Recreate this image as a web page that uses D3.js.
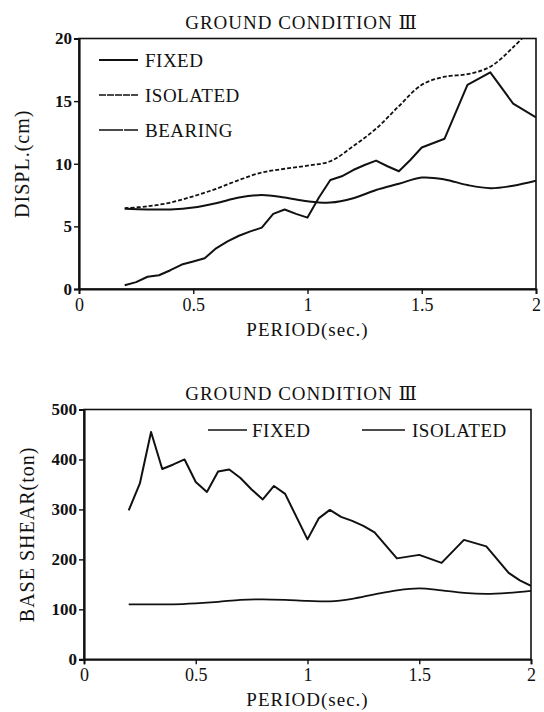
<!DOCTYPE html>
<html>
<head>
<meta charset="utf-8">
<script src="https://cdn.jsdelivr.net/npm/d3@7"></script>
<style>
  html, body { margin: 0; padding: 0; background: #fff; }
  svg { display: block; }
  text { font-family: "Liberation Serif", "DejaVu Serif", serif; fill: #111; }
</style>
</head>
<body>
<svg id="chart" width="544" height="712"></svg>
<script>
// ---------- DATA ----------
// Top chart: displacement (cm)
const topTitle = "GROUND CONDITION \u2162";
const topYLabel = "DISPL.(cm)";
const xLabel = "PERIOD(sec.)";
const xTicks = [0, 0.5, 1, 1.5, 2];
const topYTicks = [0, 5, 10, 15, 20];
const topLegend = ["FIXED", "ISOLATED", "BEARING"];

const fixedDisplPeriod = [0.2,0.25,0.3,0.35,0.4,0.45,0.5,0.55,0.6,0.65,0.7,0.75,0.8,0.85,0.9,0.95,1.0,1.05,1.1,1.15,1.2,1.25,1.3,1.35,1.4,1.45,1.5,1.6,1.7,1.8,1.9,2.0];
const fixedDispl = [0.3,0.55,0.98,1.1,1.5,1.95,2.2,2.45,3.25,3.8,4.25,4.6,4.9,6.0,6.35,6.0,5.7,7.3,8.7,9.0,9.5,9.9,10.25,9.8,9.4,10.3,11.3,12.0,16.3,17.3,14.8,13.7];

const smoothPeriod = [0.2,0.3,0.4,0.5,0.6,0.7,0.8,0.9,1.0,1.1,1.2,1.3,1.4,1.5,1.6,1.7,1.8,1.9,2.0];
const isolatedDispl = [6.45,6.6,6.9,7.4,8.0,8.7,9.3,9.6,9.85,10.2,11.4,12.8,14.6,16.3,16.95,17.15,17.75,19.3,21.2];
const bearingDispl = [6.4,6.35,6.35,6.5,6.85,7.3,7.5,7.3,7.0,6.9,7.25,7.9,8.4,8.9,8.75,8.3,8.05,8.25,8.65];

// Bottom chart: base shear (ton)
const bottomTitle = "GROUND CONDITION \u2162";
const bottomYLabel = "BASE SHEAR(ton)";
const bottomYTicks = [0, 100, 200, 300, 400, 500];
const bottomLegend = ["FIXED", "ISOLATED"];

const fixedShearPeriod = [0.2,0.25,0.3,0.35,0.4,0.45,0.5,0.55,0.6,0.65,0.7,0.75,0.8,0.85,0.9,1.0,1.05,1.1,1.15,1.2,1.25,1.3,1.4,1.5,1.6,1.7,1.8,1.9,1.95,2.0];
const fixedShear = [298,352,455,381,390,400,355,335,376,380,363,340,320,347,331,240,282,299,285,277,267,254,202,209,193,239,226,173,158,147];
const isolatedShear = [110,110,110,112,115,119,120,119,117,116,121,130,138,142,138,133,131,133,137];

// ---------- DRAWING ----------
const svg = d3.select("#chart");
svg.append("rect").attr("width", 544).attr("height", 712).attr("fill", "#fff");

function drawPanel(cfg) {
  const {left, right, top, bottom, yMax, yTicks, title, yLabel, id} = cfg;
  const x = d3.scaleLinear().domain([0, 2]).range([left, right]);
  const y = d3.scaleLinear().domain([0, yMax]).range([bottom, top]);
  const g = svg.append("g");

  g.append("clipPath").attr("id", id).append("rect")
    .attr("x", left).attr("y", top).attr("width", right - left).attr("height", bottom - top);

  // frame
  g.append("rect").attr("x", left).attr("y", top)
    .attr("width", right - left).attr("height", bottom - top)
    .attr("fill", "none").attr("stroke", "#111").attr("stroke-width", 1.6);

  // axes
  const xa = g.append("g").attr("transform", `translate(0,${bottom})`)
    .call(d3.axisBottom(x).tickValues(xTicks).tickSize(5).tickPadding(4).tickFormat(d => String(d)));
  xa.attr("font-family", null).attr("font-size", null);
  xa.select(".domain").attr("stroke", "#111").attr("stroke-width", 1.8);
  xa.selectAll(".tick line").attr("stroke", "#111").attr("stroke-width", 1.4);
  xa.selectAll("text").style("font-size", "18px").attr("fill", "#111");

  const ya = g.append("g").attr("transform", `translate(${left},0)`)
    .call(d3.axisLeft(y).tickValues(yTicks).tickSize(5).tickPadding(2));
  ya.attr("font-family", null).attr("font-size", null);
  ya.select(".domain").attr("stroke", "#111").attr("stroke-width", 2.2);
  ya.selectAll(".tick line").attr("stroke", "#111").attr("stroke-width", 1.4);
  ya.selectAll("text").style("font-size", "17px").style("font-weight", "bold").attr("fill", "#111");

  // titles
  g.append("text").attr("x", (left + right) / 2 - 6).attr("y", top - 10)
    .attr("text-anchor", "middle").style("font-size", "19px").style("letter-spacing", "1px")
    .text(title);
  g.append("text").attr("x", (left + right) / 2).attr("y", bottom + 47)
    .attr("text-anchor", "middle").style("font-size", "19px").style("letter-spacing", "1px")
    .text(xLabel);
  g.append("text")
    .attr("transform", `translate(${left - 50},${(top + bottom) / 2}) rotate(-90)`)
    .attr("text-anchor", "middle").style("font-size", "20px").style("letter-spacing", "1px")
    .text(yLabel);

  return {x, y, g};
}

// Top panel
const P1 = drawPanel({left: 79, right: 536, top: 38.5, bottom: 289, yMax: 20,
  yTicks: topYTicks, title: topTitle, yLabel: topYLabel, id: "clipTop"});

const lineLinear = (px, py) => d3.line().x(d => px(d[0])).y(d => py(d[1]));
const lineSmooth = (px, py) => d3.line().x(d => px(d[0])).y(d => py(d[1])).curve(d3.curveCatmullRom.alpha(0.5));

P1.g.append("path").datum(d3.zip(smoothPeriod, isolatedDispl))
  .attr("clip-path", "url(#clipTop)")
  .attr("d", lineSmooth(P1.x, P1.y)).attr("fill", "none")
  .attr("stroke", "#111").attr("stroke-width", 1.8).attr("stroke-dasharray", "4,2");
P1.g.append("path").datum(d3.zip(smoothPeriod, bearingDispl))
  .attr("clip-path", "url(#clipTop)")
  .attr("d", lineSmooth(P1.x, P1.y)).attr("fill", "none")
  .attr("stroke", "#111").attr("stroke-width", 2);
P1.g.append("path").datum(d3.zip(fixedDisplPeriod, fixedDispl))
  .attr("clip-path", "url(#clipTop)")
  .attr("d", lineLinear(P1.x, P1.y)).attr("fill", "none")
  .attr("stroke", "#111").attr("stroke-width", 2).attr("stroke-linejoin", "round");

// top legend
const topDash = [null, "7,1", "24,1,14"];
const topWidth = [2, 1.5, 1.6];
topLegend.forEach((name, i) => {
  const ly = 60 + i * 35;
  P1.g.append("line").attr("x1", 99).attr("x2", 138).attr("y1", ly).attr("y2", ly)
    .attr("stroke", "#111").attr("stroke-width", topWidth[i]).attr("stroke-dasharray", topDash[i]);
  P1.g.append("text").attr("x", 145).attr("y", ly + 7).style("font-size", "19px")
    .style("letter-spacing", "0.5px").text(name);
});

// Bottom panel
const P2 = drawPanel({left: 84, right: 531, top: 409.5, bottom: 659.3, yMax: 500,
  yTicks: bottomYTicks, title: bottomTitle, yLabel: bottomYLabel, id: "clipBot"});

P2.g.append("path").datum(d3.zip(smoothPeriod, isolatedShear))
  .attr("clip-path", "url(#clipBot)")
  .attr("d", lineSmooth(P2.x, P2.y)).attr("fill", "none")
  .attr("stroke", "#111").attr("stroke-width", 1.8);
P2.g.append("path").datum(d3.zip(fixedShearPeriod, fixedShear))
  .attr("clip-path", "url(#clipBot)")
  .attr("d", lineLinear(P2.x, P2.y)).attr("fill", "none")
  .attr("stroke", "#111").attr("stroke-width", 2).attr("stroke-linejoin", "round");

// bottom legend
const botLegendPos = [{x1: 208, x2: 247, tx: 252}, {x1: 362, x2: 405, tx: 412}];
bottomLegend.forEach((name, i) => {
  const p = botLegendPos[i];
  P2.g.append("line").attr("x1", p.x1).attr("x2", p.x2).attr("y1", 430).attr("y2", 430)
    .attr("stroke", "#111").attr("stroke-width", 1.6);
  P2.g.append("text").attr("x", p.tx).attr("y", 437).style("font-size", "19px")
    .style("letter-spacing", "0.5px").text(name);
});
</script>
</body>
</html>
